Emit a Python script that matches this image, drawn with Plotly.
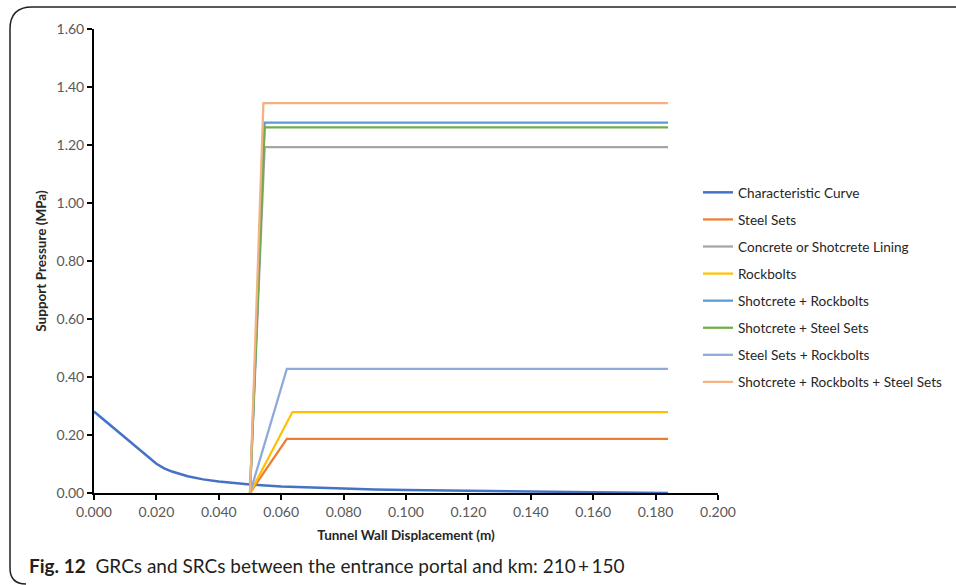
import plotly.graph_objects as go

# Ground reaction curve (characteristic curve of the rock mass)
grc_x = [0.000, 0.005, 0.010, 0.015, 0.0175, 0.020, 0.0225, 0.025, 0.030, 0.035, 0.040, 0.045,
         0.050, 0.060, 0.070, 0.080, 0.090, 0.100, 0.120, 0.140, 0.160, 0.184]
grc_y = [0.281, 0.236, 0.190, 0.144, 0.121, 0.101, 0.085, 0.074, 0.058, 0.047, 0.040, 0.034,
         0.029, 0.022, 0.018, 0.015, 0.012, 0.010, 0.007, 0.005, 0.003, 0.000]

# Support reaction curves: installed at u0, elastic up to u_max, then constant p_max
support_names = ["Steel Sets", "Concrete or Shotcrete Lining", "Rockbolts",
                 "Shotcrete + Rockbolts", "Shotcrete + Steel Sets",
                 "Steel Sets + Rockbolts", "Shotcrete + Rockbolts + Steel Sets"]
support_u0 = [0.050, 0.050, 0.050, 0.050, 0.050, 0.050, 0.050]
support_umax = [0.0618, 0.0547, 0.0636, 0.0547, 0.0547, 0.0618, 0.0543]
support_pmax = [0.187, 1.193, 0.279, 1.277, 1.261, 0.428, 1.344]
support_uend = [0.184, 0.184, 0.184, 0.184, 0.184, 0.184, 0.184]

grc_color = "#4472C4"
support_colors = ["#ED7D31", "#A5A5A5", "#FFC000", "#5B9BD5", "#70AD47",
                  "#8EA9DB", "#F4B183"]

x_ticks = [0.000, 0.020, 0.040, 0.060, 0.080, 0.100, 0.120, 0.140, 0.160, 0.180, 0.200]
y_ticks = [0.00, 0.20, 0.40, 0.60, 0.80, 1.00, 1.20, 1.40, 1.60]

W, H = 956, 585
ML, MR, MT, MB = 94, 238, 29, 92
PW, PH = W - ML - MR, H - MT - MB


def px(xp):
    return (xp - ML) / PW


def py(yp):
    return (H - MB - yp) / PH


fig = go.Figure()

fig.add_trace(go.Scatter(
    x=grc_x, y=grc_y, mode="lines", name="Characteristic Curve",
    line=dict(color=grc_color, width=2.5), legendgroup="g0"))

for i, name in enumerate(support_names):
    fig.add_trace(go.Scatter(
        x=[support_u0[i], support_umax[i], support_uend[i]],
        y=[0, support_pmax[i], support_pmax[i]],
        mode="lines", name=name,
        line=dict(color=support_colors[i], width=2.25),
        legendgroup=f"g{i + 1}"))

tick_font = dict(family="Lato, Carlito, sans-serif", size=14, color="#595959")
title_font = dict(family="Lato, Carlito, sans-serif", size=13.5, color="#262626")

fig.update_xaxes(
    range=[0, 0.2], tickvals=x_ticks, ticktext=[f"{v:.3f}" for v in x_ticks],
    showgrid=False, zeroline=False, showline=True, linecolor="black", linewidth=2,
    ticks="outside", ticklen=5, tickwidth=1.5, tickcolor="black",
    tickfont=tick_font, layer="below traces", ticklabelstandoff=0,
    title=dict(text="<b>Tunnel Wall Displacement (m)</b>", font=title_font, standoff=12))
fig.update_yaxes(
    range=[0, 1.6], tickvals=y_ticks, ticktext=[f"{v:.2f}" for v in y_ticks],
    showgrid=False, zeroline=False, showline=True, linecolor="black", linewidth=2,
    ticks="outside", ticklen=5, tickwidth=1.5, tickcolor="black",
    tickfont=tick_font, layer="below traces", ticklabelstandoff=0,
    title=dict(text="<b>Support Pressure (MPa)</b>", font=title_font, standoff=7))

# Rounded frame around the figure panel
frame_path = (f"M {px(956)} {py(7)} L {px(32)} {py(7)} "
              f"Q {px(10)} {py(7)} {px(10)} {py(29)} "
              f"L {px(10)} {py(568)} Q {px(10)} {py(584)} {px(26)} {py(584)}")
fig.add_shape(type="path", path=frame_path, xref="paper", yref="paper",
              line=dict(color="#222222", width=1.5))

fig.add_annotation(
    xref="paper", yref="paper", x=px(27), y=py(565), xanchor="left", yanchor="middle",
    showarrow=False,
    text="<b>Fig. 12</b>  GRCs and SRCs between the entrance portal and km: 210\u2009+\u2009150",
    font=dict(family="Lato, 'Noto Sans', sans-serif", size=19, color="#231F20"))

fig.update_layout(
    width=W, height=H,
    margin=dict(l=ML, r=MR, t=MT, b=MB, pad=0, autoexpand=False),
    paper_bgcolor="white", plot_bgcolor="white",
    showlegend=True,
    legend=dict(x=px(698), y=py(177), xanchor="left", yanchor="top",
                font=dict(family="Lato, Carlito, sans-serif", size=13.6, color="#262626"),
                tracegroupgap=6.4, itemwidth=30, bgcolor="rgba(0,0,0,0)"),
)

fig.write_html("out.html")
